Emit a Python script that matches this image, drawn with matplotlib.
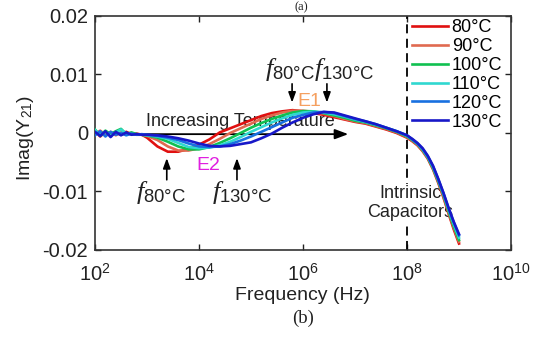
import matplotlib
matplotlib.use("Agg")
import matplotlib.pyplot as plt
import numpy as np

# frequency grid (log10 Hz) shared by all temperature sweeps
log_freq = [2.0, 2.1, 2.2, 2.3, 2.4, 2.5, 2.6, 2.7, 2.8, 2.9, 3.0,
            3.2, 3.4, 3.6, 3.8, 4.0, 4.2, 4.4, 4.6, 4.8, 5.0,
            5.2, 5.4, 5.6, 5.8, 6.0, 6.2, 6.4, 6.6, 6.8, 7.0,
            7.2, 7.4, 7.6, 7.8, 8.0,
            8.1, 8.2, 8.3, 8.4, 8.5, 8.6, 8.7, 8.8, 8.9, 9.0]

# Imag(Y21) in units of 1e-3
y_80 = [0.3, -0.6, 0.2, -0.4, 0.1, -0.3, 0.2, -0.2, -0.1, -0.3, -0.8,
        -2.3, -3.2, -3.2, -2.7, -2.0, -1.1, 0.1, 0.8, 1.5, 2.2,
        2.9, 3.4, 3.7, 3.9, 3.7, 3.4, 3.1, 2.7, 2.3, 1.9,
        1.6, 1.1, 0.6, 0.0, -0.8,
        -1.4, -2.1, -3.1, -4.4, -6.2, -8.5, -11.0, -13.8, -16.5, -18.9]
y_90 = [-0.2, 0.4, -0.3, 0.2, -0.4, 0.1, -0.3, 0.0, -0.3, -0.3, -0.5,
        -1.2, -2.3, -3.0, -3.0, -2.6, -1.9, -1.0, 0.0, 0.8, 1.6,
        2.4, 3.0, 3.5, 3.8, 3.8, 3.6, 3.3, 2.9, 2.4, 2.0,
        1.7, 1.2, 0.7, 0.1, -0.7,
        -1.3, -2.0, -3.0, -4.3, -6.1, -8.3, -10.8, -13.6, -16.2, -18.6]
y_100 = [0.6, -0.5, 0.4, -0.2, 0.3, 0.7, -0.2, 0.1, -0.2, -0.3, -0.4,
         -0.8, -1.5, -2.3, -2.8, -2.8, -2.4, -1.7, -0.9, 0.0, 0.9,
         1.7, 2.4, 3.0, 3.5, 3.75, 3.7, 3.4, 3.0, 2.6, 2.1,
         1.8, 1.3, 0.8, 0.2, -0.6,
         -1.2, -1.9, -2.9, -4.2, -6.0, -8.2, -10.6, -13.4, -16.0, -18.3]
y_110 = [0.5, -0.3, 0.2, -0.5, 0.1, 0.6, -0.1, -0.2, -0.2, -0.3, -0.4,
         -0.6, -1.0, -1.7, -2.4, -2.6, -2.5, -2.1, -1.5, -0.7, 0.2,
         1.0, 1.8, 2.5, 3.1, 3.5, 3.65, 3.5, 3.2, 2.8, 2.3,
         1.9, 1.4, 0.9, 0.3, -0.5,
         -1.1, -1.8, -2.8, -4.1, -5.8, -8.0, -10.4, -13.1, -15.6, -17.9]
y_120 = [-0.4, 0.3, -0.6, 0.2, -0.3, 0.0, -0.4, -0.1, -0.3, -0.2, -0.3,
         -0.5, -0.8, -1.2, -1.8, -2.3, -2.4, -2.3, -1.9, -1.3, -0.6,
         0.2, 1.0, 1.8, 2.6, 3.1, 3.5, 3.6, 3.4, 2.9, 2.4,
         2.0, 1.5, 0.9, 0.3, -0.4,
         -1.1, -1.8, -2.7, -4.0, -5.7, -7.9, -10.3, -12.9, -15.3, -17.5]
y_130 = [0.2, -0.5, 0.3, -0.7, 0.2, -0.4, 0.1, -0.3, -0.2, -0.3, -0.3,
         -0.4, -0.6, -0.9, -1.3, -1.8, -2.2, -2.3, -2.2, -1.9, -1.6,
         -0.9, -0.1, 0.9, 1.8, 2.6, 3.2, 3.6, 3.5, 3.0, 2.5,
         2.0, 1.5, 0.9, 0.3, -0.4,
         -1.0, -1.7, -2.6, -3.9, -5.6, -7.8, -10.2, -12.8, -15.2, -17.3]

labels = ["80°C", "90°C", "100°C", "110°C", "120°C", "130°C"]
colors = ["#e01010", "#e06a50", "#10c050", "#30d8d0", "#1870e0", "#1818c8"]
series = [y_80, y_90, y_100, y_110, y_120, y_130]

xticks = [1e2, 1e4, 1e6, 1e8, 1e10]
yticks = [-0.02, -0.01, 0, 0.01, 0.02]
ytick_labels = ["-0.02", "-0.01", "0", "0.01", "0.02"]

plt.rcParams["font.family"] = ["Liberation Sans", "DejaVu Sans"]
plt.rcParams["mathtext.fontset"] = "custom"
plt.rcParams["mathtext.rm"] = "Liberation Sans"
plt.rcParams["mathtext.it"] = "Liberation Serif:italic"
plt.rcParams["mathtext.sf"] = "Liberation Sans"

fig = plt.figure(figsize=(5.38, 3.38), dpi=100)
ax = fig.add_axes([0.1766, 0.2604, 0.7732, 0.6923])

freq = 10 ** np.array(log_freq)
for y, c, lab in zip(series, colors, labels):
    ax.plot(freq, np.array(y) * 1e-3, color=c, lw=1.9, label=lab, zorder=3)

ax.set_xscale("log")
ax.set_xlim(1e2, 1e10)
ax.set_ylim(-0.02, 0.02)
ax.set_xticks(xticks)
ax.minorticks_off()
ax.set_yticks(yticks, labels=ytick_labels)
ax.tick_params(direction="in", length=4, width=1, top=True, right=True,
               labelsize=14.5, colors="#222222", pad=5)
ax.tick_params(axis="x", pad=9)
for s in ax.spines.values():
    s.set_linewidth(1.2)
    s.set_color("#333333")

# intrinsic capacitor boundary
ax.axvline(1e8, color="black", lw=1.3, linestyle=(0, (5, 3)), zorder=2)
ax.text(1.15e8, -0.0120, "Intrinsic\nCapacitors", ha="center", va="center",
        fontsize=13, linespacing=1.15, color="#222222", zorder=2.5,
        bbox=dict(facecolor="white", edgecolor="none", pad=0.5))

# increasing temperature arrow
ax.annotate("", xy=(10 ** 6.87, -0.0002), xytext=(10 ** 2.81, -0.0002),
            arrowprops=dict(arrowstyle="-|>,head_length=0.8,head_width=0.3",
                            color="black", lw=1.3, shrinkA=0, shrinkB=0), zorder=2)
ax.text(10 ** 4.79, 0.0019, "Increasing Temperature", ha="center", va="center",
        fontsize=13, color="#222222", zorder=2)

# E1 markers
arrow_kw = dict(arrowstyle="-|>,head_length=0.6,head_width=0.22", color="black",
                lw=1.2, shrinkA=0, shrinkB=0)
for lf in [5.79, 6.46]:
    ax.annotate("", xy=(10 ** lf, 0.0052), xytext=(10 ** lf, 0.0084),
                arrowprops=arrow_kw, zorder=4)
ax.text(10 ** 5.74, 0.0108, r"$f_{\mathrm{80°C}}$", ha="center", va="center",
        fontsize=19, color="#222222")
ax.text(10 ** 6.79, 0.0108, r"$f_{\mathrm{130°C}}$", ha="center", va="center",
        fontsize=19, color="#222222")
ax.text(10 ** 6.12, 0.0053, "E1", ha="center", va="center", fontsize=14,
        color="#f5a060", zorder=4)

# E2 markers
for lf in [3.38, 4.73]:
    ax.annotate("", xy=(10 ** lf, -0.0043), xytext=(10 ** lf, -0.0080),
                arrowprops=arrow_kw, zorder=4)
ax.text(10 ** 4.17, -0.0055, "E2", ha="center", va="center", fontsize=14,
        color="#e020e0", zorder=4)
ax.text(10 ** 3.27, -0.0101, r"$f_{\mathrm{80°C}}$", ha="center", va="center",
        fontsize=19, color="#222222")
ax.text(10 ** 4.83, -0.0101, r"$f_{\mathrm{130°C}}$", ha="center", va="center",
        fontsize=19, color="#222222")

ax.set_xlabel("Frequency (Hz)", fontsize=14, color="#222222")
ax.xaxis.set_label_coords(0.4976, -0.16)
ax.set_ylabel("Imag(Y$_{21}$)", fontsize=14, color="#222222")
ax.yaxis.set_label_coords(-0.142, 0.48)

ax.legend(loc="upper left", bbox_to_anchor=(0.762, 0.985), frameon=False,
          fontsize=13, handlelength=2.0, handletextpad=0.2,
          labelspacing=0.1, borderpad=0, borderaxespad=0)

fig.text(0.563, 0.059, "(b)", ha="center", va="center", fontsize=13.5,
         family="Liberation Serif", color="#222222")
fig.text(0.560, 0.997, "(a)", ha="center", va="top", fontsize=9,
         family="Liberation Serif", color="#222222")

fig.savefig("out.png", dpi=100)
